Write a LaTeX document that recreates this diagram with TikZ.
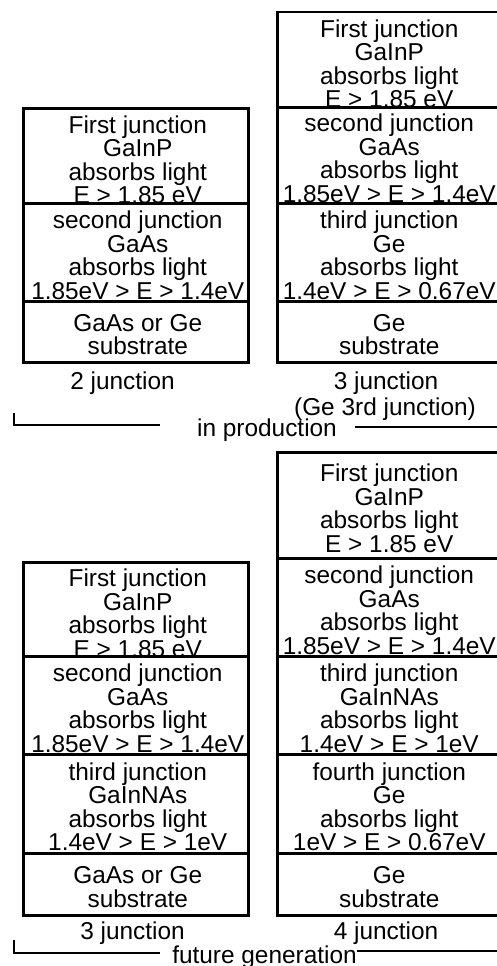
\documentclass[tikz,border=0pt]{standalone}
\usepackage{fontspec}
\setmainfont{Liberation Sans}
\usetikzlibrary{calc}
\begin{document}
\begin{tikzpicture}[x=1pt,y=-1pt,
  lcell/.style={draw, line width=2.5pt, minimum width=225pt, minimum height=#1, inner sep=0pt, anchor=north west},
  rcell/.style={draw, line width=2.5pt, minimum width=224pt, minimum height=#1, inner sep=0pt, anchor=north west},
  txt/.style={align=center, inner sep=0pt, font=\fontsize{24.4}{23.4}\selectfont},
  lbl/.style={inner sep=0pt, anchor=base, font=\fontsize{24.4}{23.4}\selectfont},
  brk/.style={line width=2.5pt}]
\useasboundingbox (0,0) rectangle (497,966);
\clip (0,0) rectangle (497,966);
% ---------- in production: 2 junction ----------
\node[lcell=95pt] (a1) at (22,107) {};
\node[lcell=98pt] (a2) at (22,202) {};
\node[lcell=61pt] (a3) at (22,300) {};
\node[txt] (ta1) at ($(a1.center)+(2,4)$) {First junction\\GaInP\\absorbs light\\E > 1.85 eV};
\node[txt] (ta2) at ($(a2.center)+(2,3)$) {second junction\\GaAs\\absorbs light\\1.85eV > E > 1.4eV};
\node[txt] (ta3) at ($(a3.center)+(2,3)$) {GaAs or Ge\\substrate};
\node[lbl] (la) at (122.5,389) {2 junction};
% ---------- in production: 3 junction ----------
\node[rcell=95pt] (b1) at (276,11) {};
\node[rcell=96pt] (b2) at (276,106) {};
\node[rcell=98pt] (b3) at (276,202) {};
\node[rcell=61pt] (b4) at (276,300) {};
\node[txt] (tb1) at ($(b1.center)+(0,4)$) {First junction\\GaInP\\absorbs light\\E > 1.85 eV};
\node[txt] (tb2) at ($(b2.center)+(0,3)$) {second junction\\GaAs\\absorbs light\\1.85eV > E > 1.4eV};
\node[txt] (tb3) at ($(b3.center)+(0,3)$) {third junction\\Ge\\absorbs light\\1.4eV > E > 0.67eV};
\node[txt] (tb4) at ($(b4.center)+(0,3)$) {Ge\\substrate};
\node[lbl] (lb) at (386,389) {3 junction};
\node[lbl] (lb2) at (385,415) {(Ge 3rd junction)};
% bracket
\node[lbl] (prod) at (267,436) {in production};
\coordinate (p1) at (14,413);
\coordinate (p2) at (14,425);
\coordinate (p3) at (160,425);
\coordinate (p4) at (355,427);
\coordinate (p5) at (497,427);
\draw[brk] (p1) -- (p2) -- (p3);
\draw[brk] (p4) -- (p5);
% ---------- future generation: 3 junction ----------
\node[lcell=94pt] (c1) at (22,561) {};
\node[lcell=98pt] (c2) at (22,655) {};
\node[lcell=99pt] (c3) at (22,753) {};
\node[lcell=62pt] (c4) at (22,852) {};
\node[txt] (tc1) at ($(c1.center)+(2,4)$) {First junction\\GaInP\\absorbs light\\E > 1.85 eV};
\node[txt] (tc2) at ($(c2.center)+(2,3)$) {second junction\\GaAs\\absorbs light\\1.85eV > E > 1.4eV};
\node[txt] (tc3) at ($(c3.center)+(2,3)$) {third junction\\GaInNAs\\absorbs light\\1.4eV > E > 1eV};
\node[txt] (tc4) at ($(c4.center)+(2,3)$) {GaAs or Ge\\substrate};
\node[lbl] (lc) at (132.5,939) {3 junction};
% ---------- future generation: 4 junction ----------
\node[rcell=106pt] (d1) at (276,451) {};
\node[rcell=98pt] (d2) at (276,557) {};
\node[rcell=98pt] (d3) at (276,655) {};
\node[rcell=99pt] (d4) at (276,753) {};
\node[rcell=62pt] (d5) at (276,852) {};
\node[txt] (td1) at ($(d1.center)+(0,3)$) {First junction\\GaInP\\absorbs light\\E > 1.85 eV};
\node[txt] (td2) at ($(d2.center)+(0,3)$) {second junction\\GaAs\\absorbs light\\1.85eV > E > 1.4eV};
\node[txt] (td3) at ($(d3.center)+(0,3)$) {third junction\\GaInNAs\\absorbs light\\1.4eV > E > 1eV};
\node[txt] (td4) at ($(d4.center)+(0,3)$) {fourth junction\\Ge\\absorbs light\\1eV > E > 0.67eV};
\node[txt] (td5) at ($(d5.center)+(0,3)$) {Ge\\substrate};
\node[lbl] (ld) at (386,939) {4 junction};
% bracket
\node[lbl] (fut) at (264.5,963) {future generation};
\coordinate (q1) at (14,940);
\coordinate (q2) at (14,953);
\coordinate (q3) at (160,953);
\coordinate (q4) at (357,951);
\coordinate (q5) at (497,951);
\draw[brk] (q1) -- (q2) -- (q3);
\draw[brk] (q4) -- (q5);
\end{tikzpicture}
\end{document}
